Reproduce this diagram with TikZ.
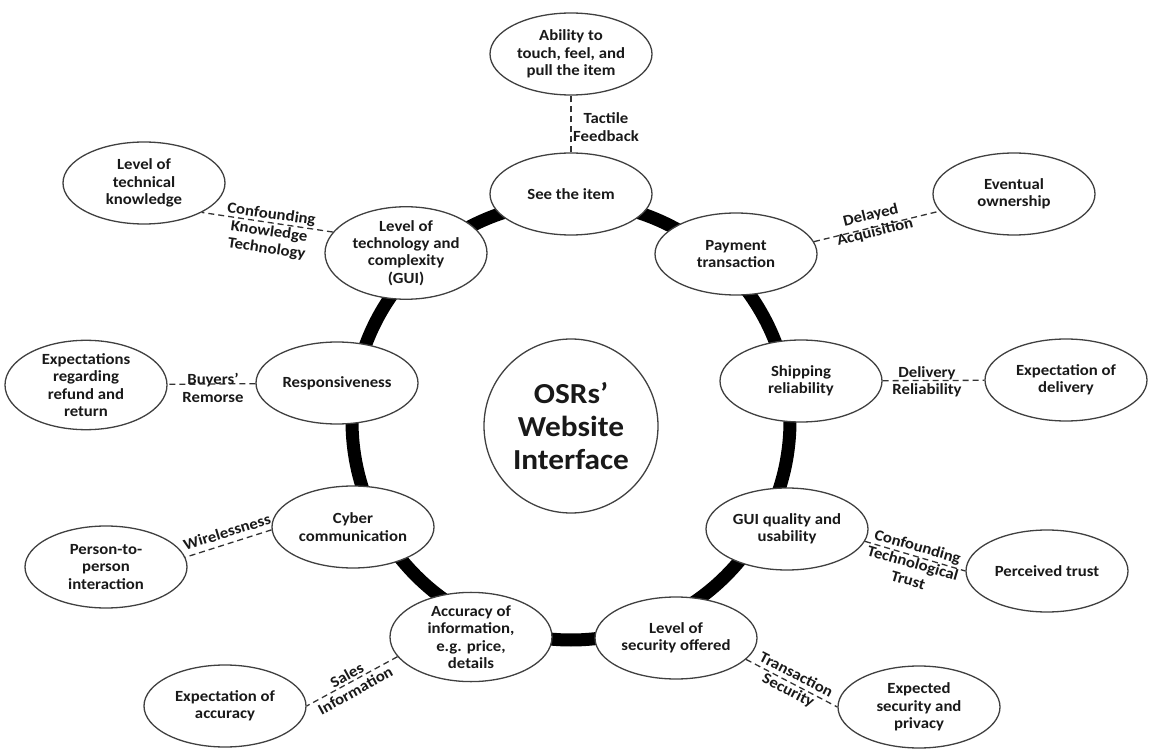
\documentclass[tikz,border=0pt]{standalone}
\usepackage{fontspec}
\setmainfont{Carlito}[FakeStretch=1.08]
\usetikzlibrary{shapes.geometric}
\begin{document}
\begin{tikzpicture}[x=1pt,y=-1pt,
  txt/.style={font=\bfseries\fontsize{15.5}{17.4}\selectfont, text=black!90},
  oval/.style={txt, ellipse, draw=black!75, line width=1.3pt, fill=white,
    minimum width=162pt, minimum height=82pt, inner sep=0pt, align=center},
  link/.style={draw=black!80, line width=1.3pt, dash pattern=on 6pt off 4pt},
  lbl/.style={txt, align=center, inner sep=0pt}]
\useasboundingbox (0,0) rectangle (1152,751);

% thick ring joining the website features
\node[circle, draw=black, line width=13pt, minimum size=438pt, inner sep=0pt] (ring) at (571,421) {};

% hub
\node[circle, draw=black!75, line width=1.3pt, fill=white, minimum size=174pt, inner sep=0pt,
  align=center, font=\bfseries\fontsize{29}{33}\selectfont, text=black!90] (hub) at (571,426)
  {OSRs’\\Website\\Interface};

% features on the ring
\node[oval] (see)  at (571,194) {See the item};
\node[oval] (pay)  at (736,254) {Payment\\transaction};
\node[oval] (ship) at (801,381) {Shipping\\reliability};
\node[oval] (gui)  at (787,529) {GUI quality and\\usability};
\node[oval] (sec)  at (676,638) {Level of\\security offered};
\node[oval] (acc)  at (471,637) {Accuracy of\\information,\\e.g. price,\\details};
\node[oval] (cyb)  at (353,527) {Cyber\\communication};
\node[oval] (resp) at (337,383) {Responsiveness};
\node[oval] (tech) at (406,253) {Level of\\technology and\\complexity\\(GUI)};

% outer expectations
\node[oval] (touch)  at (571,54)   {Ability to\\touch, feel, and\\pull the item};
\node[oval] (know)   at (144,183)  {Level of\\technical\\knowledge};
\node[oval] (own)    at (1014,194) {Eventual\\ownership};
\node[oval] (deliv)  at (1066,380) {Expectation of\\delivery};
\node[oval] (trust)  at (1047,571) {Perceived trust};
\node[oval] (priv)   at (919,707)  {Expected\\security and\\privacy};
\node[oval] (expacc) at (225,706)  {Expectation of\\accuracy};
\node[oval] (p2p)    at (106,567)  {Person-to-\\person\\interaction};
\node[oval, minimum height=85pt] (refund) at (86,385) {Expectations\\regarding\\refund and\\return};

% dashed links
\draw[link] (see) -- (touch);
\draw[link] (tech.164) -- (know.-27);
\draw[link] (pay.9) -- (own.-167);
\draw[link] (ship) -- (deliv);
\draw[link] (gui.-9) -- (trust.west);
\draw[link] (sec.-17) -- (priv.west);
\draw[link] (acc.-165) -- (expacc.east);
\draw[link] (cyb.182) -- (p2p.7);
\draw[link] (resp) -- (refund);

% link labels
\node[lbl] (l1) at (606,127) {Tactile\\Feedback};
\node[lbl, rotate=-8] (l2) at (269,232) {Confounding\\Knowledge\\Technology};
\node[lbl, rotate=14] (l3) at (873,224) {Delayed\\Acquisition};
\node[lbl] (l4) at (927,382) {Delivery\\Reliability};
\node[lbl, rotate=-16] (l5) at (913,563) {Confounding\\Technological\\Trust};
\node[lbl, rotate=-27] (l6) at (792,683) {Transaction\\Security};
\node[lbl, rotate=29] (l7) at (351,683) {Sales\\Information};
\node[lbl, rotate=17] (l8) at (227,532) {Wirelessness};
\node[lbl] (l9) at (213,388) {Buyers’\\Remorse};
\end{tikzpicture}
\end{document}
